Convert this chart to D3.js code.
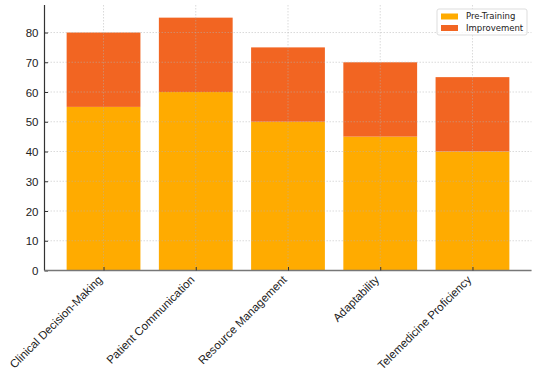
<!DOCTYPE html>
<html>
<head>
<meta charset="utf-8">
<script src="https://cdn.jsdelivr.net/npm/d3@7"></script>
<style>
  body { margin: 0; background: #fff; }
  svg { display: block; font-family: "DejaVu Sans", sans-serif; }
</style>
</head>
<body>
<div id="chart"></div>
<script>
var categories = ["Clinical Decision-Making", "Patient Communication", "Resource Management", "Adaptability", "Telemedicine Proficiency"]
  , preTraining = [55, 60, 50, 45, 40]
  , improvement = [25, 25, 25, 25, 25]
  , yTicks = [0, 10, 20, 30, 40, 50, 60, 70, 80]
  , seriesNames = ["Pre-Training", "Improvement"]
  ;

var width = 538
  , height = 369
  , plotLeft = 44.5
  , plotRight = 531.5
  , plotTop = 5
  , plotBottom = 270.5
  , colors = ["#ffab00", "#f26522"]
  ;

var svg = d3.select("#chart").append("svg")
  .attr("width", width)
  .attr("height", height);

// bar positions follow matplotlib: index units, bar width .8, 5% margins
var x = d3.scaleLinear().domain([-0.64, 4.64]).range([plotLeft, plotRight])
  , y = d3.scaleLinear().domain([0, 89.25]).range([plotBottom, plotTop])
  , barW = x(0.8) - x(0)
  ;

var rows = categories.map(function (c, i) {
  return { cat: c, i: i, pre: preTraining[i], imp: improvement[i] };
});

// bars
svg.append("g").selectAll("rect").data(rows).enter().append("rect")
  .attr("x", function (d) { return x(d.i) - barW / 2; })
  .attr("y", function (d) { return y(d.pre); })
  .attr("width", barW)
  .attr("height", function (d) { return y(0) - y(d.pre); })
  .attr("fill", colors[0]);

svg.append("g").selectAll("rect").data(rows).enter().append("rect")
  .attr("x", function (d) { return x(d.i) - barW / 2; })
  .attr("y", function (d) { return y(d.pre + d.imp); })
  .attr("width", barW)
  .attr("height", function (d) { return y(d.pre) - y(d.pre + d.imp); })
  .attr("fill", colors[1]);

// grid on top, faint dotted
var grid = svg.append("g")
  .attr("stroke", "#b0b0b0")
  .attr("stroke-opacity", 0.6)
  .attr("stroke-width", 0.8)
  .attr("stroke-dasharray", "1.5,1.5");

grid.selectAll("line.h").data(yTicks).enter().append("line")
  .attr("class", "h")
  .attr("x1", plotLeft).attr("x2", plotRight)
  .attr("y1", function (d) { return y(d); })
  .attr("y2", function (d) { return y(d); });

grid.selectAll("line.v").data(rows).enter().append("line")
  .attr("class", "v")
  .attr("x1", function (d) { return x(d.i); })
  .attr("x2", function (d) { return x(d.i); })
  .attr("y1", plotTop).attr("y2", plotBottom);

// axes
var yAxis = svg.append("g")
  .attr("transform", "translate(" + plotLeft + ",0)")
  .call(d3.axisLeft(y).tickValues(yTicks).tickSize(-3.5).tickPadding(6));

yAxis.select(".domain").attr("stroke", "#333").attr("stroke-width", 1.2).attr("d", "M0," + plotTop + "V" + plotBottom);
yAxis.selectAll(".tick line").attr("stroke", "#333");
yAxis.selectAll(".tick text")
  .attr("fill", "#222")
  .style("font-size", "11.5px")
  .attr("dy", "0.35em");

var xAxis = svg.append("g")
  .attr("transform", "translate(0," + plotBottom + ")")
  .call(d3.axisBottom(x).tickValues(d3.range(categories.length))
    .tickFormat(function (i) { return categories[i]; })
    .tickSize(-3.5).tickPadding(0));

xAxis.select(".domain").attr("stroke", "#777").attr("stroke-width", 1.6).attr("d", "M" + plotLeft + ",0H" + plotRight);
xAxis.selectAll(".tick line").attr("stroke", "#333");
xAxis.selectAll(".tick text")
  .attr("fill", "#222")
  .style("font-size", "11.5px")
  .attr("text-anchor", "end")
  .attr("dy", "0")
  .attr("y", 0)
  .attr("transform", "translate(-1,10) rotate(-45)");

// legend
var legend = svg.append("g").attr("transform", "translate(437,9)");

legend.append("rect")
  .attr("width", 90).attr("height", 26).attr("rx", 2)
  .attr("fill", "#fff").attr("fill-opacity", 0.8)
  .attr("stroke", "#ddd");

var items = legend.selectAll("g.item").data(seriesNames).enter().append("g")
  .attr("class", "item")
  .attr("transform", function (d, i) { return "translate(4," + (3 + i * 11.5) + ")"; });

items.append("rect")
  .attr("width", 17).attr("height", 6).attr("y", 1.5)
  .attr("fill", function (d, i) { return colors[i]; });

items.append("text")
  .attr("x", 25).attr("y", 4.5).attr("dy", "0.35em")
  .style("font-size", "8.5px").attr("fill", "#222")
  .text(function (d) { return d; });
</script>
</body>
</html>
